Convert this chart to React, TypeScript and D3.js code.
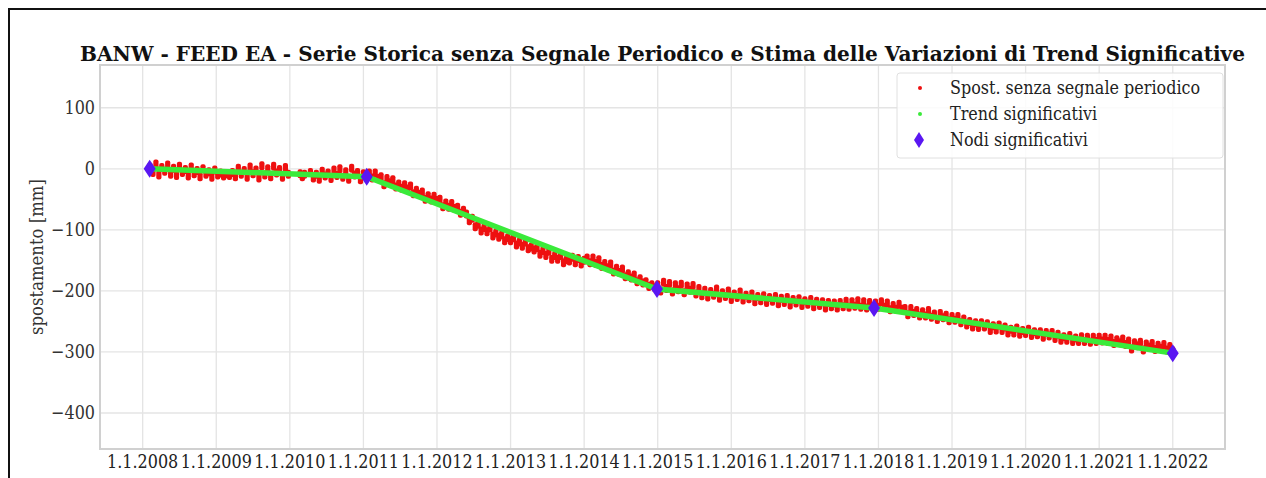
import React from "react";
import * as d3 from "d3";

// ---- data ----
const title =
  "BANW - FEED EA - Serie Storica senza Segnale Periodico e Stima delle Variazioni di Trend Significative";
const yLabel = "spostamento [mm]";
const xTickYears = [2008, 2009, 2010, 2011, 2012, 2013, 2014, 2015, 2016, 2017, 2018, 2019, 2020, 2021, 2022];
const xTickLabels = xTickYears.map((y) => `1.1.${y}`);
const yTicks = [100, 0, -100, -200, -300, -400];
const legendLabels = ["Spost. senza segnale periodico", "Trend significativi", "Nodi significativi"];

// significant nodes (year, mm)
const nodeYears = [2008.095, 2011.045, 2014.99, 2017.94, 2022.0];
const nodeValues = [0, -13, -197, -228, -302];

// displacement without periodic signal: acquisition segments (regular sampling)
const seg1Start = 2008.1;
const seg1Step = 0.04;
const seg1Values = [
  3, -6, 8, -10, 2, -4, 6, -9, 1, -11, 4, -6, -1, -12, 3, -8, -3, -13, 0, -9, -5, -14, -2, -10, -7, -12, -8,
  -11, -6, -13, 1, -9, -3, -14, 3, -8, -2, -15, 5, -10, 0, -13, 4, -7, -1, -14, 2, -9,
];
const seg2Start = 2010.14;
const seg2Step = 0.03;
const seg2Values = [-8, -13, -9];
const seg3Start = 2010.28;
const seg3Step = 0.04;
const seg3Values = [
  // 2010.28 - 2011.04
  -6, -15, -9, -17, -4, -12, -7, -16, -2, -11, 0, -14, -5, -17, 1, -10, -6, -18, -8, -14,
  // 2011.08 - 2012.40
  -7, -15, -7, -16, -13, -26, -16, -23, -18, -30, -25, -32, -26, -33, -28, -41, -35, -42, -38, -50, -44, -51,
  -45, -52, -50, -62, -56, -63, -57, -65, -63, -73, -68, -74,
  // 2012.44 - 2014.00
  -85, -81, -95, -91, -102, -96, -103, -97, -110, -105, -112, -108, -118, -113, -118, -113, -125, -120, -127,
  -120, -131, -128, -133, -129, -140, -134, -142, -135, -148, -142, -148, -142, -154, -149, -151, -145, -154,
  -147, -156, -150,
  // 2014.04 - 2014.96
  -146, -154, -146, -155, -149, -160, -155, -162, -156, -169, -163, -170, -164, -177, -172, -179, -174, -185,
  -180, -187, -185, -193, -190, -195,
  // 2015.00 - 2017.92
  -190, -200, -186, -196, -188, -202, -190, -198, -189, -203, -192, -199, -191, -205, -196, -208, -199, -210,
  -201, -207, -197, -212, -203, -209, -200, -214, -205, -211, -202, -215, -207, -213, -205, -218, -209, -216,
  -208, -219, -211, -217, -209, -221, -212, -219, -211, -223, -214, -220, -213, -224, -216, -222, -214, -226,
  -217, -224, -218, -228, -219, -226, -220, -228, -219, -226, -217, -227, -218, -225, -216, -227, -218, -228,
  -219, -226,
  // 2017.96 - 2022.00
  -220, -227, -218, -227, -220, -231, -224, -230, -222, -230, -229, -239, -229, -237, -232, -241, -234, -241,
  -232, -243, -238, -247, -237, -244, -240, -249, -242, -248, -242, -252, -246, -256, -250, -259, -252, -260,
  -252, -259, -254, -265, -257, -264, -256, -265, -259, -269, -263, -269, -261, -271, -265, -270, -263, -273,
  -267, -272, -267, -276, -268, -274, -268, -278, -271, -281, -275, -281, -273, -283, -277, -283, -275, -283,
  -276, -284, -276, -283, -276, -282, -276, -283, -277, -286, -280, -285, -279, -288, -282, -295, -285, -290,
  -284, -297, -287, -292, -286, -296, -289, -294, -288, -297, -291, -298,
];

// ---- layout ----
const W = 1266;
const H = 478;
const plot = { left: 100, right: 1225, top: 65, bottom: 449 };
const xDomain = [2007.42, 2022.71];
const yDomain = [-459, 170];

const RED = "#ee1010";
const GREEN = "#3aea3a";
const NODE = "#5a17f2";
const GRID = "#e4e4e4";
const FRAME = "#d0d0d0";
const FONT = "'DejaVu Serif', serif";
const SY = 1.15;

function STxt(props: any) {
  const { x, y, sy = SY, children, ...rest } = props;
  return (
    <text transform={`translate(${x},${y}) scale(1,${sy})`} {...rest}>
      {children}
    </text>
  );
}

export default function App() {
  const x = d3.scaleLinear().domain(xDomain).range([plot.left, plot.right]);
  const y = d3.scaleLinear().domain(yDomain).range([plot.bottom, plot.top]);

  const pts: [number, number][] = [];
  const addSeg = (start: number, step: number, vals: number[]) =>
    vals.forEach((v, i) => pts.push([start + i * step, v]));
  addSeg(seg1Start, seg1Step, seg1Values);
  addSeg(seg2Start, seg2Step, seg2Values);
  addSeg(seg3Start, seg3Step, seg3Values);

  const trendLine = d3
    .line<number>()
    .x((_, i) => x(nodeYears[i]))
    .y((v) => y(v))(nodeValues);

  const diamond = (cx: number, cy: number, w: number, h: number) =>
    `M${cx},${cy - h / 2}L${cx + w / 2},${cy}L${cx},${cy + h / 2}L${cx - w / 2},${cy}Z`;

  const fmt = (v: number) => (v < 0 ? `\u2212${Math.abs(v)}` : `${v}`);

  return (
    <svg
      width={W}
      height={H}
      style={{ position: "absolute", left: 0, top: 0, background: "#fff" }}
      fontFamily={FONT}
    >
      <rect x={0} y={0} width={W} height={H} fill="#fff" />
      <rect x={9} y={9} width={W + 20} height={H + 20} fill="none" stroke="#111" strokeWidth={2} />

      {/* grid */}
      {xTickYears.map((yr) => (
        <line key={"gx" + yr} x1={x(yr)} x2={x(yr)} y1={plot.top} y2={plot.bottom} stroke={GRID} strokeWidth={1.3} />
      ))}
      {yTicks.map((v) => (
        <line key={"gy" + v} x1={plot.left} x2={plot.right} y1={y(v)} y2={y(v)} stroke={GRID} strokeWidth={1.3} />
      ))}
      <rect
        x={plot.left}
        y={plot.top}
        width={plot.right - plot.left}
        height={plot.bottom - plot.top}
        fill="none"
        stroke={FRAME}
        strokeWidth={2}
      />

      {/* title */}
      <STxt
        x={(plot.left + plot.right) / 2}
        y={61}
        sy={1.18}
        textAnchor="middle"
        fontWeight="bold"
        fontSize={17}
        fill="#111"
        textLength={1165}
        lengthAdjust="spacingAndGlyphs"
      >
        {title}
      </STxt>

      {/* y ticks */}
      {yTicks.map((v) => (
        <STxt key={"ty" + v} x={95} y={y(v) + 6} textAnchor="end" fontSize={16} fill="#333">
          {fmt(v)}
        </STxt>
      ))}
      {/* x ticks */}
      {xTickYears.map((yr, i) => (
        <STxt key={"tx" + yr} x={x(yr)} y={468} textAnchor="middle" fontSize={16} fill="#222">
          {xTickLabels[i]}
        </STxt>
      ))}
      {/* y label */}
      <text
        transform={`translate(43,${(plot.top + plot.bottom) / 2}) rotate(-90) scale(1.0,1.1)`}
        textAnchor="middle"
        fontSize={16.5}
        fill="#333"
      >
        {yLabel}
      </text>

      {/* data */}
      <g>
        {pts.map(([t, v], i) => (
          <rect key={"p" + i} x={x(t) - 2.6} y={y(v) - 4.5} width={5.2} height={9} rx={2} fill={RED} />
        ))}
      </g>
      <path d={trendLine || ""} fill="none" stroke={GREEN} strokeWidth={5.5} />
      {nodeYears.map((t, i) => (
        <path key={"n" + i} d={diamond(x(t), y(nodeValues[i]), 12, 18)} fill={NODE} />
      ))}

      {/* legend */}
      <rect x={897} y={73} width={326} height={85} rx={3} fill="#fff" fillOpacity={0.85} stroke="#e0e0e0" strokeWidth={1} />
      <circle cx={920} cy={88} r={2} fill={RED} />
      <circle cx={920} cy={114} r={2} fill={GREEN} />
      <path d={diamond(919, 140, 10, 16)} fill={NODE} />
      {legendLabels.map((l, i) => (
        <STxt key={"l" + i} x={950} y={94 + i * 26} fontSize={16} fill="#222">
          {l}
        </STxt>
      ))}
    </svg>
  );
}
